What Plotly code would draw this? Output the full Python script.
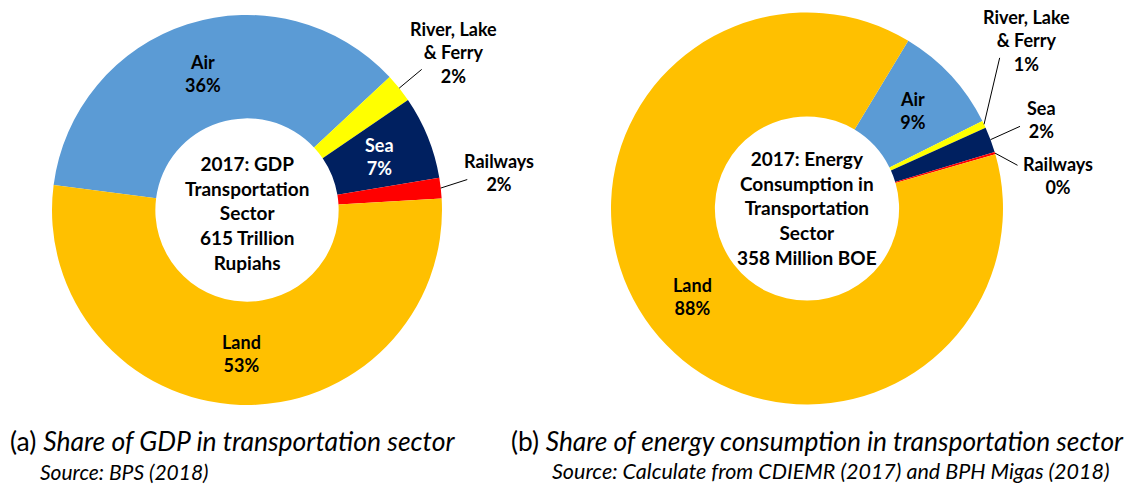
import math
import plotly.graph_objects as go

# --- data ---------------------------------------------------------------
modes = ["Air", "River, Lake<br>& Ferry", "Sea", "Railways", "Land"]
gdp_share = [36.0, 2.4, 6.9, 1.7, 53.0]            # % of transport GDP
energy_share = [9.0, 0.6, 2.1, 0.2, 88.1]          # % of transport energy use
mode_colors = ["#5B9BD5", "#FFFF00", "#002060", "#FF0000", "#FFC000"]

gdp_center_text = "2017: GDP<br>Transportation<br>Sector<br>615 Trillion<br>Rupiahs"
energy_center_text = "2017: Energy<br>Consumption in<br>Transportation<br>Sector<br>358 Million BOE"

caption_a = "(a) <i>Share of GDP in transportation sector</i>"
source_a = "<i>Source: BPS (2018)</i>"
caption_b = "(b) <i>Share of energy consumption in transportation sector</i>"
source_b = "<i>Source: Calculate from CDIEMR (2017) and BPH Migas (2018)</i>"

W, H = 1131, 488
HOLE = 0.47
FONT = "Lato"


def paper(px, py):
    # screen pixel -> paper coords
    return px / W, 1 - py / H


def slice_mid_angles(values, rotation):
    total = sum(values)
    out, cum = [], 0.0
    for v in values:
        frac = (cum + v / 2) / total
        out.append(math.radians(90 - rotation - 360 * frac))
        cum += v
    return out


def label(x, y, text, size, color="black", bold=True, **kw):
    return dict(x=x, y=y, xref="paper", yref="paper", showarrow=False,
                xanchor="center", yanchor="middle", text=text,
                font=dict(family=FONT, size=size, color=color,
                          weight="bold" if bold else "normal"), **kw)


# pixel layout of each donut: centre, radius, rotation,
# outside labels: index -> (line end offset, text offset) in px from the slice tip
charts = [
    dict(values=gdp_share, cx=247, cy=210, r=195, rotation=-82.6,
         center_text=gdp_center_text, center_y=213,
         inside=[0, 2, 4],
         outside={1: ((24, -20), (54, -36)), 3: ((28, -9), (58, -16))}),
    dict(values=energy_share, cx=807, cy=208.5, r=196, rotation=31.1,
         center_text=energy_center_text, center_y=208,
         inside=[0, 4],
         outside={1: ((16, -68), (42, -84)), 2: ((31, -14), (51, -20)),
                  3: ((24, 13), (63, 22))}),
]

fig = go.Figure()
annotations = []

for c in charts:
    x0, y1 = paper(c["cx"] - c["r"], c["cy"] - c["r"])
    x1, y0 = paper(c["cx"] + c["r"], c["cy"] + c["r"])
    fig.add_trace(go.Pie(
        labels=modes, values=c["values"], hole=HOLE, sort=False,
        direction="clockwise", rotation=c["rotation"],
        marker=dict(colors=mode_colors, line=dict(width=0)),
        textinfo="none", hoverinfo="label+percent",
        domain=dict(x=[x0, x1], y=[y0, y1]),
    ))

    angles = slice_mid_angles(c["values"], c["rotation"])
    total = sum(c["values"])

    # labels sitting inside the ring
    r_mid = c["r"] * (1 + HOLE) / 2
    for i in c["inside"]:
        a = angles[i]
        px = c["cx"] + r_mid * math.cos(a)
        py = c["cy"] - r_mid * math.sin(a)
        x, y = paper(px, py)
        pct = round(100 * c["values"][i] / total)
        annotations.append(label(x, y, f"{modes[i]}<br>{pct}%", 18,
                                 color="white" if i == 2 else "black"))

    # small slices: label outside with a leader line
    for i, (line_off, text_off) in c["outside"].items():
        a = angles[i]
        px = c["cx"] + c["r"] * math.cos(a)
        py = c["cy"] - c["r"] * math.sin(a)
        x, y = paper(px, py)
        annotations.append(dict(
            x=x, y=y, xref="paper", yref="paper", text="", showarrow=True,
            ax=line_off[0], ay=line_off[1], arrowhead=0, arrowwidth=1,
            arrowcolor="black",
        ))
        pct = round(100 * c["values"][i] / total)
        annotations.append(label(x, y, f"{modes[i]}<br>{pct}%", 18,
                                 xshift=text_off[0], yshift=-text_off[1]))

    # text in the hole
    x, y = paper(c["cx"], c["center_y"])
    annotations.append(label(x, y, c["center_text"], 19))

# captions under each donut
for text, cx, cy, size in [(caption_a, 232, 441, 26.5), (source_a, 124, 471, 21),
                           (caption_b, 817, 441, 26.3), (source_b, 831, 471, 21.5)]:
    x, y = paper(cx, cy)
    annotations.append(label(x, y, text, size, bold=False))

fig.update_layout(
    width=W, height=H,
    margin=dict(l=0, r=0, t=0, b=0),
    showlegend=False,
    paper_bgcolor="white",
    plot_bgcolor="white",
    annotations=annotations,
)

# drop the default 8px page margin so the figure fills the window exactly
fig.write_html("out.html", config={"displayModeBar": False},
               post_script="document.body.style.margin='0';")
